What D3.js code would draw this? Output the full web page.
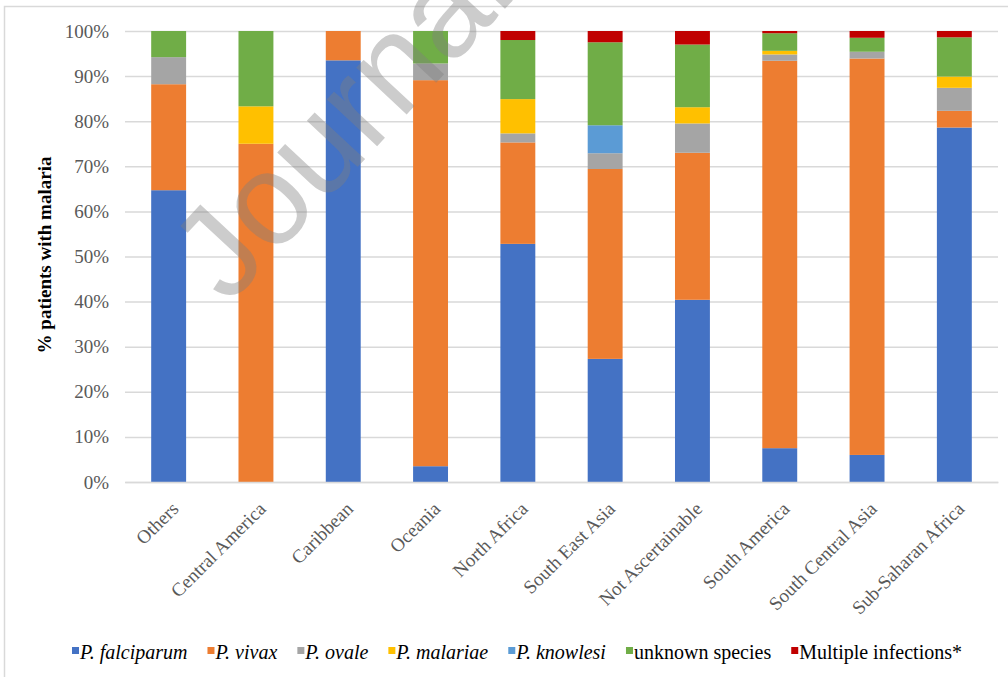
<!DOCTYPE html>
<html>
<head>
<meta charset="utf-8">
<script src="https://cdn.jsdelivr.net/npm/d3@7"></script>
<style>
  body { margin: 0; background: #fff; }
</style>
</head>
<body>
<div id="chart"></div>
<script>
const width = 1008;
const height = 677;
const serif = "'Liberation Serif', 'Times New Roman', serif";

// regions, left to right
const categories = ["Others", "Central America", "Caribbean", "Oceania", "North Africa",
    "South East Asia", "Not Ascertainable", "South America", "South Central Asia", "Sub-Saharan Africa"];

// % of patients per species
const falciparum = [64.7, 0, 93.5, 3.5, 52.8, 27.3, 40.4, 7.5, 6.0, 78.6];
const vivax      = [23.5, 75, 6.5, 85.6, 22.5, 42.1, 32.6, 85.9, 87.9, 3.7];
const ovale      = [6.0, 0, 0, 3.7, 2.0, 3.5, 6.5, 1.4, 1.5, 5.1];
const malariae   = [0, 8.3, 0, 0, 7.6, 0, 3.6, 0.8, 0, 2.5];
const knowlesi   = [0, 0, 0, 0, 0, 6.2, 0, 0, 0, 0];
const unknown    = [5.8, 16.7, 0, 7.2, 13.1, 18.4, 13.9, 3.9, 3.1, 8.7];
const multiple   = [0, 0, 0, 0, 2.0, 2.5, 3.0, 0.5, 1.5, 1.4];

const seriesNames = ["P. falciparum", "P. vivax", "P. ovale", "P. malariae", "P. knowlesi",
    "unknown species", "Multiple infections*"];
const seriesValues = [falciparum, vivax, ovale, malariae, knowlesi, unknown, multiple];
const colors = ["#4472C4", "#ED7D31", "#A5A5A5", "#FFC000", "#5B9BD5", "#70AD47", "#C00000"];
const italicNames = [true, true, true, true, true, false, false];

const yTicks = [0, 10, 20, 30, 40, 50, 60, 70, 80, 90, 100];

// build the table d3.stack wants
const table = categories.map((c, i) => {
    const row = { region: c };
    seriesNames.forEach((s, j) => { row[s] = seriesValues[j][i]; });
    return row;
});
const stacked = d3.stack().keys(seriesNames)(table);

const svg = d3.select("#chart")
    .append("svg")
        .attr("width", width)
        .attr("height", height);

// chart frame
svg.append("rect")
    .attr("x", 4.5).attr("y", 6.5)
    .attr("width", 1100).attr("height", 1000)
    .attr("fill", "none")
    .attr("stroke", "#d9d9d9")
    .attr("stroke-width", 1.5);

const x = d3.scaleBand().domain(categories).range([125, 998]).paddingInner(0.6).paddingOuter(0.3);
const y = d3.scaleLinear().domain([0, 100]).range([482, 31]);

// gridlines + y labels
const yAxis = d3.axisLeft(y)
    .tickValues(yTicks)
    .tickSize(-(998 - 125))
    .tickPadding(16)
    .tickFormat(d => d + "%");

const gy = svg.append("g")
    .attr("transform", "translate(125,0)")
    .call(yAxis);
gy.select(".domain").remove();
gy.selectAll(".tick line").attr("stroke", "#d9d9d9").attr("stroke-width", 1.5);
gy.selectAll(".tick text")
    .attr("fill", "#595959")
    .style("font-family", serif)
    .style("font-size", "19px");

// bars
svg.append("g")
    .selectAll("g")
    .data(stacked)
    .join("g")
        .attr("fill", (d, i) => colors[i])
    .selectAll("rect")
    .data(d => d)
    .join("rect")
        .attr("x", d => x(d.data.region))
        .attr("width", x.bandwidth())
        .attr("y", d => y(d[1]))
        .attr("height", d => y(d[0]) - y(d[1]));

// x labels, rotated
const xAxis = d3.axisBottom(x).tickSize(0).tickSizeOuter(0);
const gx = svg.append("g")
    .attr("transform", "translate(0,482)")
    .call(xAxis);
gx.select(".domain").attr("stroke", "#d9d9d9").attr("stroke-width", 1.5);
gx.selectAll(".tick text")
    .attr("fill", "#595959")
    .style("font-family", serif)
    .style("font-size", "19px")
    .attr("text-anchor", "end")
    .attr("y", 0)
    .attr("dy", 0)
    .attr("transform", "translate(11,28) rotate(-45)");

// y title
svg.append("text")
    .attr("transform", "translate(51,255) rotate(-90)")
    .attr("text-anchor", "middle")
    .style("font-family", serif)
    .style("font-size", "19px")
    .style("font-weight", "bold")
    .attr("fill", "#000")
    .text("% patients with malaria");

// legend, spread between x=72 and x=962
const legend = svg.append("g").attr("transform", "translate(72,659)");
const items = seriesNames.map((s, i) => {
    const item = legend.append("g");
    item.append("rect")
        .attr("x", 0).attr("y", -12)
        .attr("width", 7).attr("height", 7)
        .attr("fill", colors[i]);
    const t = item.append("text")
        .attr("x", 8)
        .attr("y", 0)
        .style("font-family", serif)
        .style("font-size", "20px")
        .style("font-style", italicNames[i] ? "italic" : "normal")
        .attr("fill", "#000")
        .text(s);
    return { item, w: 8 + t.node().getComputedTextLength() };
});
const gap = (962 - 72 - d3.sum(items, d => d.w)) / (items.length - 1);
let lx = 0;
items.forEach(d => {
    d.item.attr("transform", `translate(${lx},0)`);
    lx += d.w + gap;
});

// watermark
svg.append("text")
    .attr("transform", "translate(228,306) rotate(-47)")
    .style("font-family", "'Liberation Sans', Arial, sans-serif")
    .style("font-size", "130px")
    .attr("fill", "#808080")
    .attr("fill-opacity", 0.4)
    .text("Journal");
</script>
</body>
</html>
